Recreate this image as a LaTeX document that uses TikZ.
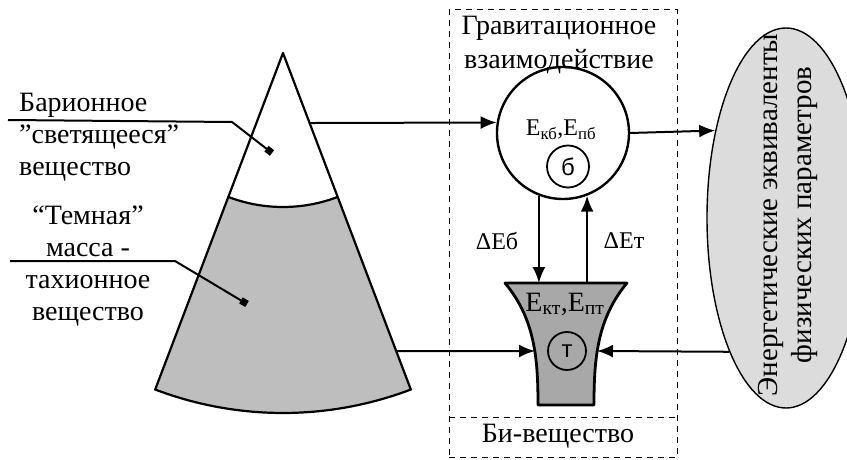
\documentclass[tikz,border=0pt]{standalone}
\usepackage{fontspec}
\setmainfont{Liberation Serif}
\newfontfamily\sansfont{Liberation Sans}
\usetikzlibrary{arrows.meta,shapes.geometric}
\definecolor{conegray}{HTML}{BEBEBE}
\definecolor{tachgray}{HTML}{A8A8A8}
\definecolor{outgray}{HTML}{DCDCDC}

\begin{document}
\begin{tikzpicture}[
  x=1pt,y=1pt,
  lbl/.style={font=\rmfamily\fontsize{28}{32}\selectfont,inner sep=0pt},
  arr/.style={-{Latex[length=16pt,width=13pt]},line width=2pt},
  pin/.style={-{Square[length=7pt,width=7pt]},line width=2pt},
  dashbox/.style={draw,dash pattern=on 6pt off 5pt,line width=1pt},
  core/.style={circle,draw,line width=1.8pt,inner sep=0pt,minimum size=42pt,font=\sansfont\fontsize{24}{24}\selectfont}
]
\useasboundingbox (0,0) rectangle (847,459);
% cone
\coordinate (apex) at (283,406);
\fill[conegray] ([shift={(249.2:154)}]apex) arc[start angle=249.2,end angle=290.8,radius=154]
  -- ([shift={(290.8:360)}]apex) arc[start angle=290.8,end angle=249.2,radius=360] -- cycle;
\draw[line width=2.2pt,line join=round] (apex) -- ([shift={(249.2:360)}]apex)
  arc[start angle=249.2,end angle=290.8,radius=360] -- cycle;
\draw[line width=2.2pt] ([shift={(249.2:154)}]apex) arc[start angle=249.2,end angle=290.8,radius=154];
\coordinate (lum) at ([shift={(290.8:74.9)}]apex);
\coordinate (dark) at ([shift={(290.8:318.8)}]apex);

% labels on the left
\node[lbl,align=left,anchor=west] (barlab) at (19,322) {Барионное\\''светящееся''\\вещество};
\node[lbl,align=center] (darklab) at (88,193) {``Темная''\\масса -\\тахионное\\вещество};
\coordinate (barpin) at (272,306);
\coordinate (darkpin) at (247,155);
\draw[pin] (8,339) -- (232,337) -- (barpin);
\draw[pin] (10,198) -- (175,198) -- (darkpin);

% bi-matter box
\node[dashbox,minimum width=228pt,minimum height=447pt,inner sep=0pt] (bibox) at (563,225.5) {};
\coordinate (split) at (563,42);
\draw[dashbox] (bibox.west |- split) -- (bibox.east |- split);
\node[lbl,align=center,font=\rmfamily\fontsize{28}{34}\selectfont] (gravlab) at (559,414) {Гравитационное\\взаимодействие};
\node[lbl] (bilab) at (558,23) {Би-вещество};

% baryonic part
\node[circle,draw,line width=2.4pt,minimum size=132pt,inner sep=0pt] (grav) at (563,326) {};
\node[font=\fontsize{24}{24}\selectfont] (gravE) at (561,329) {E\textsubscript{кб},E\textsubscript{пб}};
\node[core] (bcore) at (568,292.5) {б};

% tachyonic part
\coordinate (ttop) at (566,176);
\draw[fill=tachgray,line width=2.8pt,line join=round] (505,176) -- (627,176)
  .. controls (597,140) and (594,100) .. (594,54) -- (538,54)
  .. controls (538,100) and (535,140) .. (505,176) -- cycle;
\coordinate (tinL) at (535,108);
\coordinate (tinR) at (597,108);
\node[font=\fontsize{28}{28}\selectfont] (tachE) at (565,155) {E\textsubscript{кт},E\textsubscript{пт}};
\node[core,minimum size=38pt] (tcore) at (567,108) {т};

% energy equivalents
\node[ellipse,draw,fill=outgray,line width=1.4pt,minimum width=158pt,minimum height=380pt,inner sep=0pt] (equiv) at (786,241) {};
\node[lbl,rotate=90,align=center,font=\rmfamily\fontsize{29}{34}\selectfont] (equivlab) at (788,244)
  {Энергетические эквиваленты\\физических параметров};

% connectors
\draw[arr] (lum) -- (grav.171);
\draw[arr] (grav.east) -- (equiv.129.7);
\draw[arr] (grav.249) -- (grav.249 |- ttop);
\draw[arr] (grav.291 |- ttop) -- (grav.291);
\node[font=\fontsize{24}{24}\selectfont] (dEb) at (497,218) {ΔEб};
\node[font=\fontsize{24}{24}\selectfont] (dEt) at (624,218) {ΔEт};
\draw[arr] (dark) -- (tinL);
\draw[arr] (equiv.247) -- (tinR);
\end{tikzpicture}
\end{document}
